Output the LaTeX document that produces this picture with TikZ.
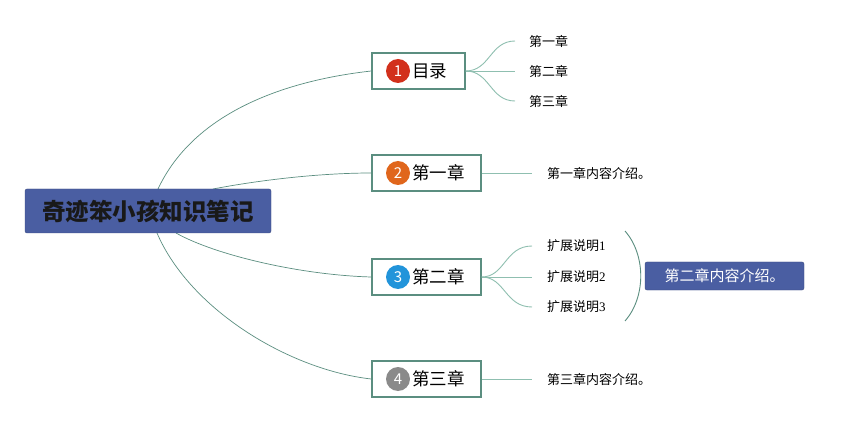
\documentclass[tikz,border=0pt]{standalone}
\usepackage{fontspec}
\setmainfont{Noto Sans CJK SC}
\newfontfamily\digitfont{Liberation Serif}
\begin{document}
\begin{tikzpicture}[x=1pt,y=-1pt,
  rootbox/.style={draw=rootblue!80!black,fill=rootblue,rounded corners=2pt,minimum width=246pt,minimum height=44pt,inner sep=0pt,font=\fontsize{23.5}{23.5}\selectfont\bfseries,text=black!90},
  topic/.style={draw=teal1,line width=1.4pt,fill=white,minimum height=36pt,inner sep=0pt},
  tlabel/.style={anchor=west,font=\fontsize{17.5}{17.5}\selectfont,inner sep=0pt,xshift=2pt,text=black},
  leaf/.style={font=\fontsize{13}{13}\selectfont,text=black,inner sep=1pt,anchor=west},
  num/.style={circle,fill=#1,text=white,minimum size=24pt,inner sep=0pt,font=\fontsize{15}{15}\selectfont},
  mainline/.style={draw=teal1,line width=0.7pt},
  leafline/.style={draw=teal2,line width=0.9pt},
  sumbox/.style={fill=rootblue,draw=rootblue!80!black,rounded corners=2pt,minimum width=159pt,minimum height=28pt,inner sep=0pt,font=\fontsize{15}{15}\selectfont,text=white}
]
\definecolor{rootblue}{HTML}{4A5EA2}
\definecolor{teal1}{HTML}{5B8E80}
\definecolor{teal2}{HTML}{8FBFB0}
\definecolor{numred}{HTML}{D2301C}
\definecolor{numorange}{HTML}{E0661C}
\definecolor{numblue}{HTML}{2294DA}
\definecolor{numgrey}{HTML}{8A8A8A}
\useasboundingbox (0,0) rectangle (849,422);
\fill[white] (0,0) rectangle (849,422);

% root attachment points
\coordinate (r1) at (158,189);
\coordinate (r2) at (213,189);
\coordinate (r3) at (176,233);
\coordinate (r4) at (157,233);

% topics
\node[topic,minimum width=93pt] (t1) at (418.5,71) {};
\node[num=numred] (n1) at (398,71) {1};
\node[tlabel] (l1) at (n1.east) {目录};

\node[topic,minimum width=109pt] (t2) at (426.5,173) {};
\node[num=numorange] (n2) at (398,173) {2};
\node[tlabel] (l2) at (n2.east) {第一章};

\node[topic,minimum width=109pt] (t3) at (426.5,277) {};
\node[num=numblue] (n3) at (398,277) {3};
\node[tlabel] (l3) at (n3.east) {第二章};

\node[topic,minimum width=109pt] (t4) at (426.5,379) {};
\node[num=numgrey] (n4) at (398,379) {4};
\node[tlabel] (l4) at (n4.east) {第三章};

% main connectors
\draw[mainline] (r1) .. controls (195,110) and (290,80) .. (t1.west);
\draw[mainline] (r2) .. controls (260,180) and (320,173) .. (t2.west);
\draw[mainline] (r3) .. controls (215,255) and (300,275) .. (t3.west);
\draw[mainline] (r4) .. controls (190,310) and (290,370) .. (t4.west);

\node[rootbox] (root) at (148,211) {奇迹笨小孩知识笔记};

% leaves of 目录
\node[leaf] (a1) at (528,41) {第一章};
\node[leaf] (a2) at (528,71) {第二章};
\node[leaf] (a3) at (528,101) {第三章};
\coordinate (e1) at (515,41);
\coordinate (e2) at (515,71);
\coordinate (e3) at (515,101);
\draw[leafline] (t1.east) .. controls (490,71) and (490,41) .. (e1);
\draw[leafline] (t1.east) -- (e2);
\draw[leafline] (t1.east) .. controls (490,71) and (490,101) .. (e3);

% 第一章
\node[leaf] (b1) at (546,173) {第一章内容介绍。};
\coordinate (f1) at (532,173);
\draw[leafline] (t2.east) -- (f1);

% 第二章
\node[leaf] (c1) at (546,246) {扩展说明{\digitfont 1}};
\node[leaf] (c2) at (546,277) {扩展说明{\digitfont 2}};
\node[leaf] (c3) at (546,307) {扩展说明{\digitfont 3}};
\coordinate (g1) at (532,246);
\coordinate (g2) at (532,277);
\coordinate (g3) at (532,307);
\draw[leafline] (t3.east) .. controls (505,277) and (505,246) .. (g1);
\draw[leafline] (t3.east) -- (g2);
\draw[leafline] (t3.east) .. controls (505,277) and (505,307) .. (g3);

% summary brace
\coordinate (s1) at (625,231);
\coordinate (s2) at (625,321);
\draw[mainline,line width=0.9pt] (s1) .. controls (646,255) and (646,297) .. (s2);
\node[sumbox] (sum) at (724.5,276) {第二章内容介绍。};

% 第三章
\node[leaf] (d1) at (546,379) {第三章内容介绍。};
\coordinate (h1) at (532,379);
\draw[leafline] (t4.east) -- (h1);
\end{tikzpicture}
\end{document}
